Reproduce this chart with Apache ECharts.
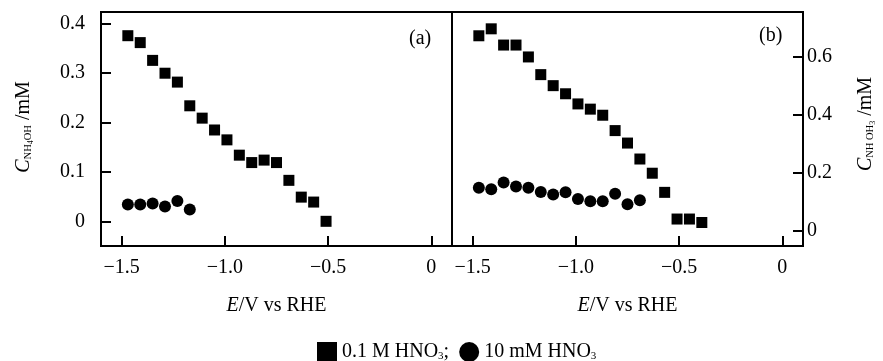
<!DOCTYPE html>
<html>
<head>
<meta charset="utf-8">
<script src="https://cdn.jsdelivr.net/npm/echarts@6/dist/echarts.min.js"></script>
<style>
  html, body { margin: 0; padding: 0; background: #fff; }
  #chart { width: 883px; height: 361px; }
</style>
</head>
<body>
<div id="chart"></div>
<script>
// potentials (V vs RHE)
const potA = [-1.47, -1.41, -1.35, -1.29, -1.23, -1.17, -1.11, -1.05, -0.99, -0.93, -0.87, -0.81, -0.75, -0.69, -0.63, -0.57, -0.51]
const potB = [-1.47, -1.41, -1.35, -1.29, -1.23, -1.17, -1.11, -1.05, -0.99, -0.93, -0.87, -0.81, -0.75, -0.69, -0.63, -0.57, -0.51, -0.45, -0.39]

// (a) NH4OH, mM
const aHigh = [0.376, 0.362, 0.326, 0.300, 0.282, 0.234, 0.209, 0.185, 0.165, 0.134, 0.119, 0.124, 0.119, 0.083, 0.049, 0.039, 0.0]
const aLow = [0.034, 0.034, 0.036, 0.030, 0.041, 0.024]

// (b) NH2OH, mM
const bHigh = [0.672, 0.696, 0.640, 0.640, 0.599, 0.538, 0.500, 0.472, 0.437, 0.419, 0.398, 0.345, 0.302, 0.247, 0.198, 0.132, 0.040, 0.040, 0.028]
const bLow = [0.148, 0.143, 0.166, 0.152, 0.148, 0.133, 0.125, 0.132, 0.109, 0.101, 0.101, 0.127, 0.091, 0.105]

const xTicks = [-1.5, -1.0, -0.5, 0]
const yTicksA = [0, 0.1, 0.2, 0.3, 0.4]
const yTicksB = [0, 0.2, 0.4, 0.6]

const nameHigh = '0.1 M HNO3;'
const nameLow = '10 mM HNO3'

const font = 'Liberation Serif'
const ink = '#000'

const pairs = (xs, ys) => ys.map((y, i) => [xs[i], y])
const fmtX = (v) => v === 0 ? '0' : '\u2212' + Math.abs(v).toFixed(1)
const fmtY = (v) => v === 0 ? '0' : String(+v.toFixed(1))

const chart = echarts.init(document.getElementById('chart'))

const nameRich = {
  c: { fontFamily: font, fontSize: 20, fontStyle: 'italic', color: ink },
  s: { fontFamily: font, fontSize: 10.5, color: ink, padding: [9, 0, 0, 0] },
  ss: { fontFamily: font, fontSize: 8, color: ink, padding: [14, 0, 0, 0] },
  n: { fontFamily: font, fontSize: 20, color: ink }
}

const xAxis = (gridIndex) => ({
  type: 'value', gridIndex, min: -1.6, max: 0.1,
  name: '{c|E}{n|/V vs RHE}', nameLocation: 'middle', nameGap: 50,
  nameTextStyle: { rich: nameRich },
  axisLine: { show: true, onZero: false, lineStyle: { color: ink, width: 2 } },
  axisTick: { show: true, inside: true, length: 10, customValues: xTicks, lineStyle: { color: ink, width: 2 } },
  axisLabel: { customValues: xTicks, formatter: fmtX, margin: 12, fontFamily: font, fontSize: 20, color: ink },
  splitLine: { show: false }
})

const yAxis = (gridIndex, position, max, ticks, name, gap, margin, shift) => ({
  type: 'value', gridIndex, position, min: position === 'left' ? -0.05 : -0.053, max,
  name, nameLocation: 'middle', nameGap: gap, nameRotate: 90,
  nameTextStyle: { rich: nameRich, padding: [0, 0, 0, shift] },
  axisLine: { show: true, onZero: false, lineStyle: { color: ink, width: 2 } },
  axisTick: { show: true, inside: true, length: 10, customValues: ticks, lineStyle: { color: ink, width: 2 } },
  axisLabel: { customValues: ticks, formatter: fmtY, margin, fontFamily: font, fontSize: 20, color: ink },
  splitLine: { show: false }
})

const squares = (name, xi, data) => ({
  name, type: 'scatter', xAxisIndex: xi, yAxisIndex: xi, symbol: 'rect', symbolSize: 11,
  itemStyle: { color: ink, opacity: 1 }, data
})
const dots = (name, xi, data) => ({
  name, type: 'scatter', xAxisIndex: xi, yAxisIndex: xi, symbol: 'circle', symbolSize: 12,
  itemStyle: { color: ink, opacity: 1 }, data
})

chart.setOption({
  backgroundColor: '#fff',
  animation: false,
  grid: [
    { left: 101, top: 12, width: 351, height: 234, show: true, borderColor: ink, borderWidth: 2 },
    { left: 452, top: 12, width: 351, height: 234, show: true, borderColor: ink, borderWidth: 2 }
  ],
  title: [
    { text: '(a)', left: 404, top: 24, textStyle: { fontFamily: font, fontSize: 20, fontWeight: 'normal', color: ink } },
    { text: '(b)', left: 754, top: 21, textStyle: { fontFamily: font, fontSize: 20, fontWeight: 'normal', color: ink } }
  ],
  legend: {
    left: 312, top: 337, itemWidth: 20, itemHeight: 20, itemGap: 10,
    data: [{ name: nameHigh, icon: 'rect' }, { name: nameLow, icon: 'circle' }],
    formatter: (n) => n.replace('HNO3', 'HNO{s|3}'),
    textStyle: {
      fontFamily: font, fontSize: 20, color: ink,
      rich: { s: { fontFamily: font, fontSize: 11, color: ink, padding: [9, 0, 0, 0] } }
    }
  },
  xAxis: [xAxis(0), xAxis(1)],
  yAxis: [
    yAxis(0, 'left', 0.424, yTicksA, '{c|C}{s|NH}{ss|4}{s|OH}{n| /mM}', 66, 16, 4),
    yAxis(1, 'right', 0.754, yTicksB, '{c|C}{s|NH OH}{ss|3}{n| /mM}', 52, 4, 10)
  ],
  series: [
    squares(nameHigh, 0, pairs(potA, aHigh)),
    dots(nameLow, 0, pairs(potA, aLow)),
    squares(nameHigh, 1, pairs(potB, bHigh)),
    dots(nameLow, 1, pairs(potB, bLow))
  ]
})
</script>
</body>
</html>
